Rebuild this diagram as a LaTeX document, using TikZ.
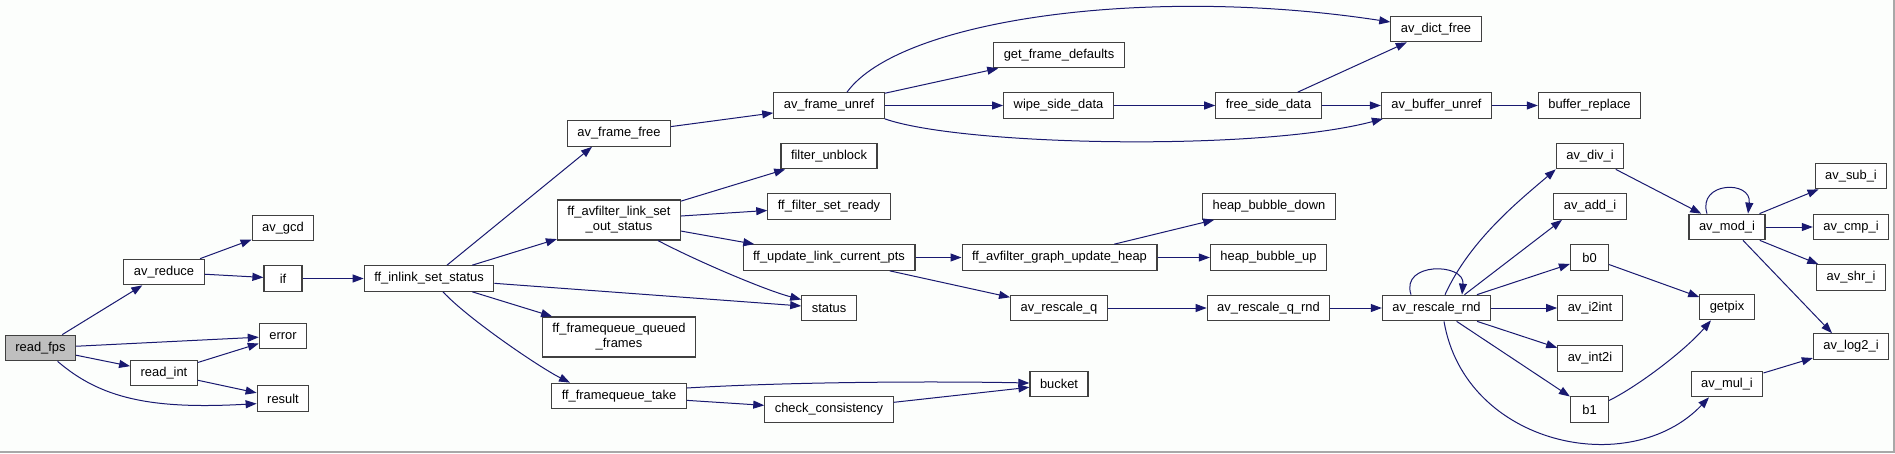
\documentclass[tikz,border=0pt]{standalone}
\usepackage{fontspec}
\setmainfont{Liberation Sans}
\usetikzlibrary{arrows.meta}
\definecolor{edgeblue}{RGB}{25,25,112}
\definecolor{boxline}{RGB}{64,64,64}
\definecolor{rootgray}{RGB}{191,191,191}
\definecolor{paper}{RGB}{252,254,252}
\definecolor{edgegray}{RGB}{168,168,168}

\begin{document}
\begin{tikzpicture}[
    x=1pt, y=-1pt,
    >={Triangle[length=11pt,width=8pt]},
    every node/.style={font=\fontsize{12.9}{15}\selectfont},
    fn/.style   ={draw=boxline, line width=1.2pt, fill=white, align=center,
                  inner xsep=10pt, inner ysep=0pt, minimum height=25.5pt,
                  minimum width=38pt},
    root/.style ={fn, fill=rootgray},
    two/.style  ={fn, minimum height=40pt},
    call/.style ={->, edgeblue, line width=1pt},
    pageedge/.style={edgegray, line width=1.5pt},
]
\useasboundingbox (0,0) rectangle (1895,453);
\fill[paper] (0,0) rectangle (1895,453);
\draw[pageedge] (0,452) -- (1894,452) -- (1894,0);

\node[root] (readfps)    at (40.5,348)     {read\_fps};
\node[fn]   (avreduce)   at (164,272)      {av\_reduce};
\node[fn]   (avgcd)      at (283,228)      {av\_gcd};
\node[fn]   (ifcall)     at (283,278.5)    {if};
\node[fn]   (error)      at (283,336)      {error};
\node[fn]   (readint)    at (164,373)      {read\_int};
\node[fn]   (result)     at (283,398.5)    {result};
\node[fn]   (inlink)     at (429,278.5)    {ff\_inlink\_set\_status};
\node[fn]   (framefree)  at (619,133.5)    {av\_frame\_free};
\node[two]  (outstatus)  at (619,220)      {ff\_avfilter\_link\_set\\\_out\_status};
\node[two]  (queued)     at (619,337)      {ff\_framequeue\_queued\\\_frames};
\node[fn]   (fqtake)     at (619,396)      {ff\_framequeue\_take};
\node[fn]   (frameunref) at (829,105.5)    {av\_frame\_unref};
\node[fn]   (unblock)    at (829,156)      {filter\_unblock};
\node[fn]   (setready)   at (829,206.5)    {ff\_filter\_set\_ready};
\node[fn]   (curpts)     at (829,257.5)    {ff\_update\_link\_current\_pts};
\node[fn]   (status)     at (829,308)      {status};
\node[fn]   (consist)    at (829,409.5)    {check\_consistency};
\node[fn]   (defaults)   at (1059,55)      {get\_frame\_defaults};
\node[fn]   (wipe)       at (1058.5,105.5) {wipe\_side\_data};
\node[fn]   (upheap)     at (1059.5,257.5) {ff\_avfilter\_graph\_update\_heap};
\node[fn]   (rescaleq)   at (1059,308)     {av\_rescale\_q};
\node[fn]   (bucket)     at (1059,384)     {bucket};
\node[fn]   (dictfree)   at (1436,29)      {av\_dict\_free};
\node[fn]   (freeside)   at (1268.5,105.5) {free\_side\_data};
\node[fn]   (bufunref)   at (1436.5,105.5) {av\_buffer\_unref};
\node[fn]   (bufrepl)    at (1589.5,105.5) {buffer\_replace};
\node[fn]   (bubdown)    at (1269,206.5)   {heap\_bubble\_down};
\node[fn]   (bubup)      at (1268.5,257.5) {heap\_bubble\_up};
\node[fn]   (rescaleqr)  at (1268.5,308)   {av\_rescale\_q\_rnd};
\node[fn]   (rescale)    at (1436.5,308)   {av\_rescale\_rnd};
\node[fn]   (divi)       at (1590,156)     {av\_div\_i};
\node[fn]   (addi)       at (1590,206.5)   {av\_add\_i};
\node[fn]   (bzero)      at (1589.5,257.5) {b0};
\node[fn]   (itoint)     at (1590,308)     {av\_i2int};
\node[fn]   (inttoi)     at (1590,358.5)   {av\_int2i};
\node[fn]   (bone)       at (1589.5,409.5) {b1};
\node[fn]   (modi)       at (1727,227)     {av\_mod\_i};
\node[fn]   (getpix)     at (1727,307)     {getpix};
\node[fn]   (muli)       at (1727,384)     {av\_mul\_i};
\node[fn]   (subi)       at (1851,176)     {av\_sub\_i};
\node[fn]   (cmpi)       at (1851,227)     {av\_cmp\_i};
\node[fn]   (shri)       at (1851,277.5)   {av\_shr\_i};
\node[fn]   (logi)       at (1851,346.5)   {av\_log2\_i};

\draw[call] (readfps) -- (avreduce);
\draw[call] (readfps) -- (error);
\draw[call] (readfps) -- (readint);
\draw[call] (readfps.-38) .. controls +(43,37) and +(-106,6) .. (result.191);
\draw[call] (avreduce) -- (avgcd);
\draw[call] (avreduce) -- (ifcall);
\draw[call] (ifcall) -- (inlink);
\draw[call] (readint) -- (error);
\draw[call] (readint) -- (result);
\draw[call] ([xshift=18pt]inlink.north) -- ([xshift=-27pt]framefree.south);
\draw[call] (inlink) -- (outstatus);
\draw[call] (inlink) -- (status);
\draw[call] (inlink) -- (queued);
\draw[call] ([xshift=14pt]inlink.south) .. controls +(25,27) and +(-30,-15) .. ([xshift=-49pt]fqtake.north);
\draw[call] (framefree) -- (frameunref);
\draw[call] (outstatus) -- (unblock);
\draw[call] (outstatus) -- (setready);
\draw[call] (outstatus) -- (curpts);
\draw[call] ([xshift=39pt]outstatus.south) .. controls +(40,21) and +(-35,-9) .. (status.163);
\draw[call] ([yshift=8pt]fqtake.east) .. controls +(100,-6) and +(-100,-2) .. ([yshift=1pt]bucket.west);
\draw[call] (fqtake) -- (consist);
\draw[call] (consist) -- (bucket);
\draw[call] ([xshift=18pt]frameunref.north) .. controls +(53,-73) and +(-241,-37) .. ([yshift=7pt]dictfree.west);
\draw[call] (frameunref) -- (defaults);
\draw[call] (frameunref) -- (wipe);
\draw[call] (frameunref.south east) .. controls +(77,27) and +(-125,33) .. ([xshift=2pt]bufunref.south west);
\draw[call] (wipe) -- (freeside);
\draw[call] (freeside) -- (dictfree);
\draw[call] (freeside) -- (bufunref);
\draw[call] (bufunref) -- (bufrepl);
\draw[call] (curpts) -- (upheap);
\draw[call] (curpts) -- (rescaleq);
\draw[call] (upheap) -- (bubdown);
\draw[call] (upheap) -- (bubup);
\draw[call] (rescaleq) -- (rescaleqr);
\draw[call] (rescaleqr) -- (rescale);
\draw[call] ([xshift=-25.5pt]rescale.north) .. controls +(-11,-33) and +(3,-32) .. ([xshift=25.5pt]rescale.north);
\draw[call] ([xshift=8.5pt]rescale.north) .. controls +(25,-55) and +(-35,30) .. (divi.south west);
\draw[call] ([xshift=28pt]rescale.north) -- ([xshift=-28pt]addi.south);
\draw[call] (rescale) -- (bzero);
\draw[call] (rescale) -- (itoint);
\draw[call] (rescale) -- (inttoi);
\draw[call] (rescale) -- (bone);
\draw[call] ([xshift=7.5pt]rescale.south) .. controls +(21,124) and +(-79,83) .. ([xshift=-18pt]muli.south);
\draw[call] (divi) -- (modi);
\draw[call] ([xshift=-20pt]modi.north) .. controls +(-10,-32) and +(4,-34) .. ([xshift=21pt]modi.north);
\draw[call] (modi) -- (subi);
\draw[call] (modi) -- (cmpi);
\draw[call] (modi) -- (shri);
\draw[call] ([xshift=16pt]modi.south) -- ([xshift=-19pt]logi.north);
\draw[call] (bzero) -- (getpix);
\draw[call] ([yshift=9pt]bone.east) .. controls +(30,-15) and +(-26,30) .. ([xshift=-16pt]getpix.south);
\draw[call] (muli) -- (logi);
\end{tikzpicture}
\end{document}
